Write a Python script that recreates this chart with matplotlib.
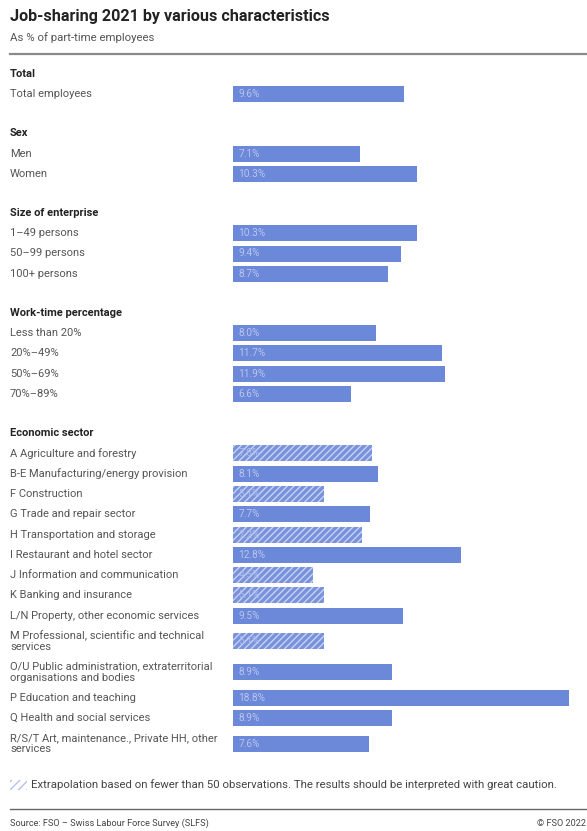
import matplotlib.pyplot as plt
from matplotlib.patches import Rectangle

plt.rcParams['font.family'] = ['Roboto', 'DejaVu Sans']
plt.rcParams['hatch.linewidth'] = 1.0

# data
groups = ["Total", "Sex", "Size of enterprise", "Work-time percentage", "Economic sector"]
total_labels = ["Total employees"]
total_values = [9.6]
sex_labels = ["Men", "Women"]
sex_values = [7.1, 10.3]
size_labels = ["1\u201349 persons", "50\u201399 persons", "100+ persons"]
size_values = [10.3, 9.4, 8.7]
worktime_labels = ["Less than 20%", "20%\u201349%", "50%\u201369%", "70%\u201389%"]
worktime_values = [8.0, 11.7, 11.9, 6.6]
sector_labels = ["A Agriculture and forestry",
                 "B-E Manufacturing/energy provision",
                 "F Construction",
                 "G Trade and repair sector",
                 "H Transportation and storage",
                 "I Restaurant and hotel sector",
                 "J Information and communication",
                 "K Banking and insurance",
                 "L/N Property, other economic services",
                 "M Professional, scientific and technical\nservices",
                 "O/U Public administration, extraterritorial\norganisations and bodies",
                 "P Education and teaching",
                 "Q Health and social services",
                 "R/S/T Art, maintenance., Private HH, other\nservices"]
sector_values = [7.8, 8.1, 5.1, 7.7, 7.2, 12.8, 4.5, 5.1, 9.5, 5.1, 8.9, 18.8, 8.9, 7.6]
sector_uncertain = [True, False, True, False, True, False, True, True, False, True, False, False, False, False]

all_labels = [total_labels, sex_labels, size_labels, worktime_labels, sector_labels]
all_values = [total_values, sex_values, size_values, worktime_values, sector_values]
all_uncertain = [[False] * len(total_values), [False] * len(sex_values), [False] * len(size_values),
                 [False] * len(worktime_values), sector_uncertain]

bar_color = '#6c88d8'
W, H = 587, 831

fig = plt.figure(figsize=(W / 100, H / 100), dpi=100)
bg = fig.add_axes([0, 0, 1, 1])
bg.set_xlim(0, W)
bg.set_ylim(H, 0)
bg.axis('off')

ax = fig.add_axes([233 / W, 0, 1 - 233 / W, 1])
ax.set_xlim(0, (W - 233) / 17.85)
ax.set_ylim(H, 0)
ax.axis('off')

# title block
bg.text(10, 17, "Job-sharing 2021 by various characteristics", fontsize=11.6,
        fontweight='bold', color='#222222', va='center')
bg.text(10, 38, "As % of part-time employees", fontsize=8.2, color='#555555', va='center')
bg.plot([10, W], [54, 54], color='#8a8a8a', lw=1.6)

# rows
y = 74
for g, labels, values, unc in zip(groups, all_labels, all_values, all_uncertain):
    bg.text(10, y, g, fontsize=8, fontweight='bold', color='#222222', va='center')
    prev_lines = 1
    for lab, val, u in zip(labels, values, unc):
        n = lab.count('\n') + 1
        y += 20.3 + 5.3 * (prev_lines - 1) + 5.3 * (n - 1)
        prev_lines = n
        bg.text(10, y, lab, fontsize=8, color='#555555', va='center', linespacing=1.2)
        if u:
            ax.barh(y, val, height=16, left=0, color='#7892dc', edgecolor='#c8d2f2',
                    hatch='/////', linewidth=0)
            ax.text(0.3, y, f"{val:.1f}%", fontsize=7.3, color='#aebcea', va='center')
        else:
            ax.barh(y, val, height=16, left=0, color=bar_color, linewidth=0)
            ax.text(0.3, y, f"{val:.1f}%", fontsize=7.3, color='#b9c5ef', va='center')
    y += 39 + 5.3 * (prev_lines - 1)

# legend note
bg.add_patch(Rectangle((10, 780), 17, 10, facecolor='none', edgecolor='#b3c1ec',
                       hatch='////', linewidth=0))
bg.text(31, 785, "Extrapolation based on fewer than 50 observations. The results should be interpreted with great caution.",
        fontsize=8.2, color='#444444', va='center')

# footer
bg.plot([10, W], [809, 809], color='#666666', lw=1.0)
bg.text(10, 823, "Source: FSO \u2013 Swiss Labour Force Survey (SLFS)", fontsize=6.6,
        color='#444444', va='center')
bg.text(586, 823, "\u00a9 FSO 2022", fontsize=6.6, color='#444444', va='center', ha='right')

fig.savefig('out.png', dpi=100)
